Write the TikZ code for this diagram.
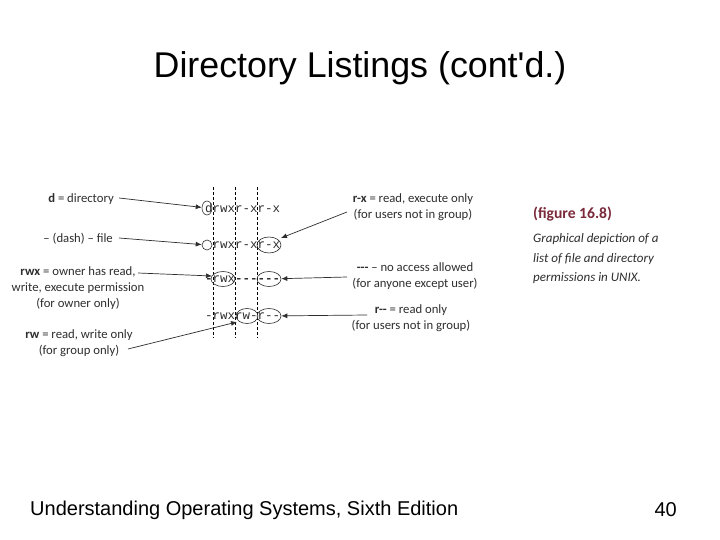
\documentclass[tikz,border=0pt]{standalone}
\usepackage{fontspec}
\setmainfont{Liberation Sans}
\newfontfamily\plainf{Liberation Sans}
\newfontfamily\lblfont{Carlito}
\newfontfamily\monof{Liberation Mono}
\usetikzlibrary{shapes.geometric,arrows.meta}
\definecolor{inkgrey}{HTML}{2E2E2E}
\definecolor{figred}{HTML}{7A2A3A}
\tikzset{
  x=1pt,y=-1pt,
  title/.style={font=\plainf\fontsize{35.8}{38}\selectfont,inner sep=0,text=black},
  foot/.style={font=\fontsize{20}{24}\selectfont,inner sep=0,text=black},
  lbl/.style={font=\lblfont\fontsize{12.7}{15.8}\selectfont,inner sep=0,text=inkgrey,align=center},
  perm/.style={font=\monof\fontsize{12.5}{14}\selectfont,inner sep=0,text=inkgrey,anchor=west},
  capt/.style={font=\lblfont\itshape\fontsize{13}{19.5}\selectfont,inner sep=0,text=inkgrey,anchor=west,align=left},
  capth/.style={font=\lblfont\bfseries\fontsize{15.6}{17}\selectfont,inner sep=0,text=figred,anchor=west},
  ring/.style={draw=inkgrey,ellipse,inner sep=0,line width=0.6pt,minimum width=#1},
  guide/.style={draw=black,densely dashed,line width=0.7pt},
  conn/.style={draw=inkgrey,line width=0.7pt,-{Latex[length=6pt,width=5pt]}}
}
\begin{document}
\begin{tikzpicture}
\useasboundingbox (0,0) rectangle (720,540);
\fill[white] (0,0) rectangle (720,540);
\node[title] (ttl) at (360,68.5) {Directory Listings (cont'd.)};
\node[foot,anchor=west] (ft) at (30,510) {Understanding Operating Systems, Sixth Edition};
\node[foot,anchor=east] (pg) at (677,510) {40};
% guides
\coordinate (g1t) at (213,187); \coordinate (g1b) at (213,338);
\coordinate (g2t) at (235.5,187); \coordinate (g2b) at (235.5,338);
\coordinate (g3t) at (257,187); \coordinate (g3b) at (257,338);
\draw[guide] (g1t) -- (g1b);
\draw[guide] (g2t) -- (g2b);
\draw[guide] (g3t) -- (g3b);
% permission strings
\node[perm] (p1) at (205,208) {drwxr-xr-x};
\node[perm] (p2) at (212.5,245) {rwxr-xr-x};
\node[perm] (p3) at (205,279) {\textbf{-}rwx\textbf{------}};
\node[perm] (p4) at (205,316) {-rwxrw-r--};
% rings
\node[ring=10pt,minimum height=14pt] (rd) at (207,208) {};
\node[ring=10pt,minimum height=10pt] (rf) at (207,245) {};
\node[ring=24pt,minimum height=16pt] (rox) at (269,245) {};
\node[ring=24pt,minimum height=15pt] (rown) at (223,279) {};
\node[ring=24pt,minimum height=15pt] (rno) at (269,279) {};
\node[ring=22pt,minimum height=15pt] (rgr) at (247,316) {};
\node[ring=24pt,minimum height=15pt] (rot) at (269,316) {};
% left labels
\node[lbl,anchor=east] (ld) at (114,199) {\textbf{d} = directory};
\node[lbl,anchor=east] (lf) at (113,238.5) {– (dash) – file};
\node[lbl] (lo) at (78,288) {\textbf{rwx} = owner has read,\\write, execute permission\\(for owner only)};
\node[lbl] (lg) at (79,343) {\textbf{rw} = read, write only\\(for group only)};
% right labels
\node[lbl] (rl1) at (413,207.5) {\textbf{r-x} = read, execute only\\(for users not in group)};
\node[lbl] (rl2) at (415,276.5) {\textbf{---} – no access allowed\\(for anyone except user)};
\node[lbl] (rl3) at (411,318) {\textbf{r--} = read only\\(for users not in group)};
% connector ends
\coordinate (sd) at (119,198); \coordinate (sf) at (119,238);
\coordinate (so) at (138,273); \coordinate (tow) at (212,276);
\coordinate (sg) at (128,349); \coordinate (tg) at (237,322);
\coordinate (s1) at (347,212); \coordinate (t1) at (281,238);
\coordinate (s2) at (347,277); \coordinate (s3) at (367,315);
\draw[conn] (sd) -- (rd);
\draw[conn] (sf) -- (rf);
\draw[conn] (so) -- (tow);
\draw[conn] (sg) -- (tg);
\draw[conn] (s1) -- (t1);
\draw[conn] (s2) -- (rno);
\draw[conn] (s3) -- (rot);
% caption
\node[capth] (ch) at (533,214) {(figure 16.8)};
\node[capt] (ct) at (533,259) {Graphical depiction of a\\list of file and directory\\permissions in UNIX.};
\end{tikzpicture}
\end{document}
